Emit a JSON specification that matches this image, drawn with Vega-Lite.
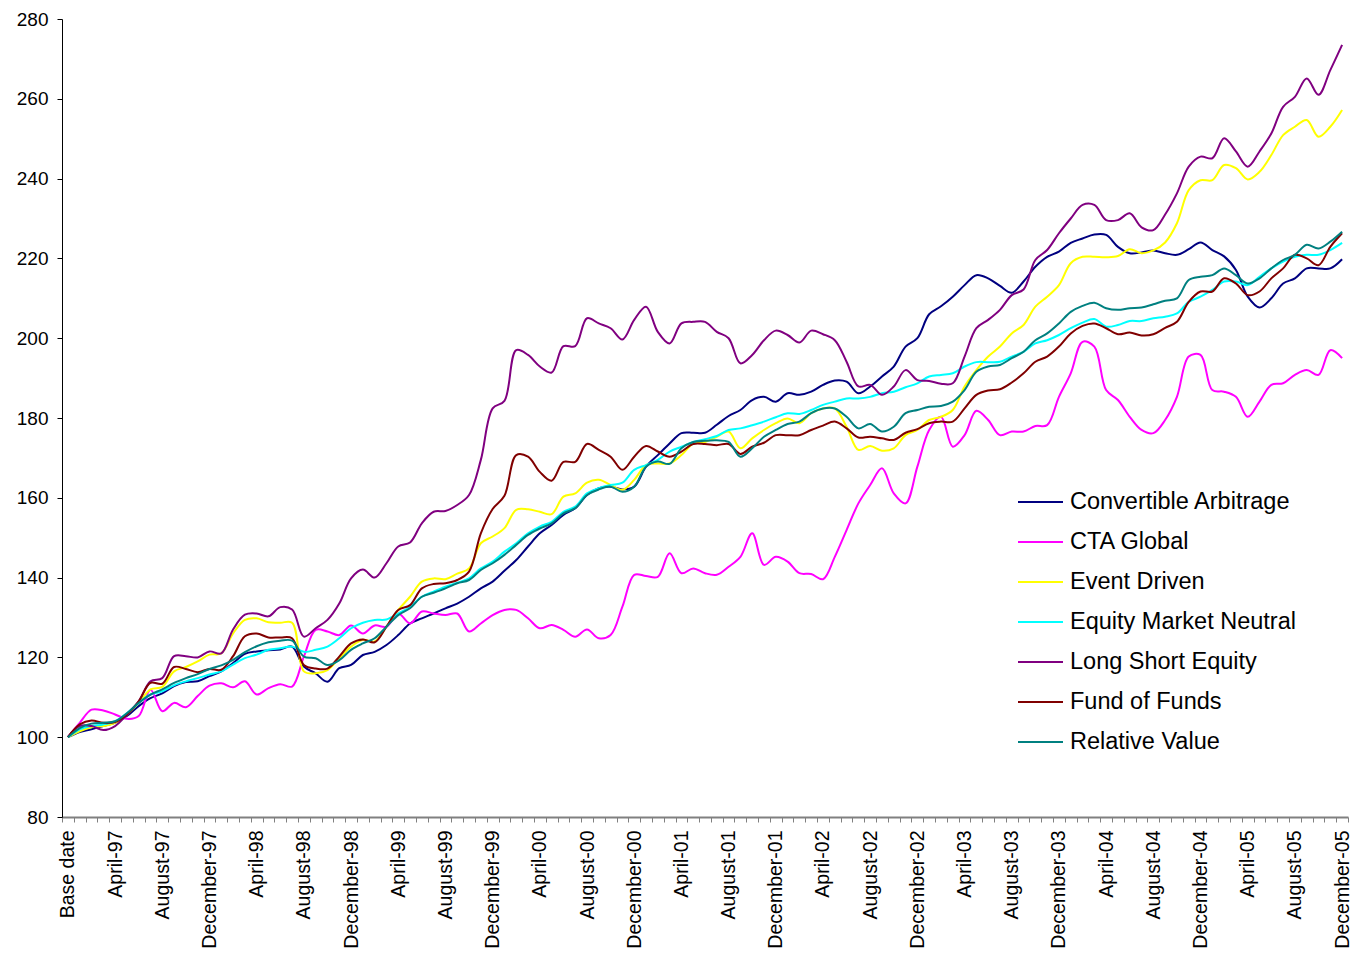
{
"$schema": "https://vega.github.io/schema/vega-lite/v6.json",
"width": 1286, "height": 798,
"autosize": {"type": "none"},
"padding": {"left": 62, "top": 19, "right": 2, "bottom": 137},
"background": "white",
"config": {"view": {"stroke": null}, "font": "Liberation Sans"},
"data": {"values": [
{"m":"Base date","Convertible Arbitrage":100,"CTA Global":100,"Event Driven":100,"Equity Market Neutral":100,"Long Short Equity":100,"Fund of Funds":100,"Relative Value":100},
{"m":"January-97","Convertible Arbitrage":101.3,"CTA Global":103.6,"Event Driven":101.5,"Equity Market Neutral":102,"Long Short Equity":102.8,"Fund of Funds":103.2,"Relative Value":102.3},
{"m":"February-97","Convertible Arbitrage":102,"CTA Global":106.9,"Event Driven":102.5,"Equity Market Neutral":102.8,"Long Short Equity":102.8,"Fund of Funds":104.2,"Relative Value":103.4},
{"m":"March-97","Convertible Arbitrage":102.8,"CTA Global":106.7,"Event Driven":102.8,"Equity Market Neutral":103.2,"Long Short Equity":101.8,"Fund of Funds":103.6,"Relative Value":103.6},
{"m":"April-97","Convertible Arbitrage":103.6,"CTA Global":105.7,"Event Driven":103.6,"Equity Market Neutral":104,"Long Short Equity":102.8,"Fund of Funds":103.8,"Relative Value":104},
{"m":"May-97","Convertible Arbitrage":105.3,"CTA Global":104.6,"Event Driven":105.7,"Equity Market Neutral":106,"Long Short Equity":105.7,"Fund of Funds":105.7,"Relative Value":106},
{"m":"June-97","Convertible Arbitrage":107.8,"CTA Global":105.3,"Event Driven":108.6,"Equity Market Neutral":108.6,"Long Short Equity":109,"Fund of Funds":109,"Relative Value":108.6},
{"m":"July-97","Convertible Arbitrage":109.8,"CTA Global":111.9,"Event Driven":112,"Equity Market Neutral":110.7,"Long Short Equity":114,"Fund of Funds":113.6,"Relative Value":110.7},
{"m":"August-97","Convertible Arbitrage":111,"CTA Global":106.5,"Event Driven":112.6,"Equity Market Neutral":111.5,"Long Short Equity":114.8,"Fund of Funds":113.4,"Relative Value":112},
{"m":"September-97","Convertible Arbitrage":112.8,"CTA Global":108.6,"Event Driven":116.5,"Equity Market Neutral":113,"Long Short Equity":120.3,"Fund of Funds":117.6,"Relative Value":113.6},
{"m":"October-97","Convertible Arbitrage":113.8,"CTA Global":107.5,"Event Driven":117.6,"Equity Market Neutral":114,"Long Short Equity":120.3,"Fund of Funds":117.1,"Relative Value":114.8},
{"m":"November-97","Convertible Arbitrage":114,"CTA Global":110.3,"Event Driven":119,"Equity Market Neutral":114.8,"Long Short Equity":120,"Fund of Funds":116.3,"Relative Value":115.8},
{"m":"December-97","Convertible Arbitrage":115.3,"CTA Global":112.9,"Event Driven":120.7,"Equity Market Neutral":115.7,"Long Short Equity":121.5,"Fund of Funds":117.1,"Relative Value":117.1},
{"m":"January-98","Convertible Arbitrage":116.5,"CTA Global":113.5,"Event Driven":121,"Equity Market Neutral":116.5,"Long Short Equity":121,"Fund of Funds":116.9,"Relative Value":118},
{"m":"February-98","Convertible Arbitrage":118.6,"CTA Global":112.5,"Event Driven":126,"Equity Market Neutral":118.2,"Long Short Equity":127,"Fund of Funds":120.3,"Relative Value":119.4},
{"m":"March-98","Convertible Arbitrage":120.9,"CTA Global":114,"Event Driven":129.4,"Equity Market Neutral":119.8,"Long Short Equity":130.7,"Fund of Funds":125.3,"Relative Value":121.3},
{"m":"April-98","Convertible Arbitrage":121.5,"CTA Global":110.7,"Event Driven":129.8,"Equity Market Neutral":120.7,"Long Short Equity":131,"Fund of Funds":126,"Relative Value":122.8},
{"m":"May-98","Convertible Arbitrage":121.8,"CTA Global":112.3,"Event Driven":128.8,"Equity Market Neutral":121.9,"Long Short Equity":130.3,"Fund of Funds":125,"Relative Value":123.8},
{"m":"June-98","Convertible Arbitrage":122,"CTA Global":113.3,"Event Driven":128.7,"Equity Market Neutral":122.3,"Long Short Equity":132.6,"Fund of Funds":125,"Relative Value":124.2},
{"m":"July-98","Convertible Arbitrage":122.7,"CTA Global":112.7,"Event Driven":128.7,"Equity Market Neutral":122.7,"Long Short Equity":132,"Fund of Funds":124.8,"Relative Value":124.2},
{"m":"August-98","Convertible Arbitrage":117.7,"CTA Global":120.2,"Event Driven":116.5,"Equity Market Neutral":121.4,"Long Short Equity":125.2,"Fund of Funds":118.1,"Relative Value":120.2},
{"m":"September-98","Convertible Arbitrage":116,"CTA Global":126.9,"Event Driven":116,"Equity Market Neutral":121.9,"Long Short Equity":127.3,"Fund of Funds":117.2,"Relative Value":119.8},
{"m":"October-98","Convertible Arbitrage":113.9,"CTA Global":126.5,"Event Driven":116.8,"Equity Market Neutral":122.7,"Long Short Equity":129.4,"Fund of Funds":117.2,"Relative Value":118.1},
{"m":"November-98","Convertible Arbitrage":117.3,"CTA Global":125.6,"Event Driven":119.8,"Equity Market Neutral":124.8,"Long Short Equity":133.5,"Fund of Funds":120.2,"Relative Value":119.3},
{"m":"December-98","Convertible Arbitrage":118.1,"CTA Global":128,"Event Driven":122.7,"Equity Market Neutral":127.3,"Long Short Equity":139.8,"Fund of Funds":123.5,"Relative Value":121.9},
{"m":"January-99","Convertible Arbitrage":120.6,"CTA Global":126,"Event Driven":124.4,"Equity Market Neutral":128.7,"Long Short Equity":142,"Fund of Funds":124.5,"Relative Value":123.5},
{"m":"February-99","Convertible Arbitrage":121.4,"CTA Global":128,"Event Driven":124,"Equity Market Neutral":129.4,"Long Short Equity":140,"Fund of Funds":123.8,"Relative Value":124.8},
{"m":"March-99","Convertible Arbitrage":123.1,"CTA Global":127.7,"Event Driven":127.7,"Equity Market Neutral":129.5,"Long Short Equity":143.6,"Fund of Funds":127.7,"Relative Value":127.7},
{"m":"April-99","Convertible Arbitrage":125.6,"CTA Global":131,"Event Driven":131.9,"Equity Market Neutral":131,"Long Short Equity":147.8,"Fund of Funds":131.9,"Relative Value":130.6},
{"m":"May-99","Convertible Arbitrage":128.5,"CTA Global":128.5,"Event Driven":135.2,"Equity Market Neutral":132.7,"Long Short Equity":148.8,"Fund of Funds":133.1,"Relative Value":132.3},
{"m":"June-99","Convertible Arbitrage":129.8,"CTA Global":131.5,"Event Driven":139,"Equity Market Neutral":135.2,"Long Short Equity":153.6,"Fund of Funds":137.3,"Relative Value":135.2},
{"m":"July-99","Convertible Arbitrage":131,"CTA Global":131,"Event Driven":139.8,"Equity Market Neutral":136.5,"Long Short Equity":156.5,"Fund of Funds":138.4,"Relative Value":136.2},
{"m":"August-99","Convertible Arbitrage":132.3,"CTA Global":130.6,"Event Driven":139.6,"Equity Market Neutral":137.7,"Long Short Equity":156.7,"Fund of Funds":138.6,"Relative Value":137.3},
{"m":"September-99","Convertible Arbitrage":133.5,"CTA Global":131,"Event Driven":141,"Equity Market Neutral":138.7,"Long Short Equity":158.2,"Fund of Funds":139.4,"Relative Value":138.6},
{"m":"October-99","Convertible Arbitrage":135.2,"CTA Global":126.5,"Event Driven":142.3,"Equity Market Neutral":139.8,"Long Short Equity":160.7,"Fund of Funds":141.5,"Relative Value":139.4},
{"m":"November-99","Convertible Arbitrage":137.3,"CTA Global":128.5,"Event Driven":148.6,"Equity Market Neutral":142.3,"Long Short Equity":169.5,"Fund of Funds":151.1,"Relative Value":141.9},
{"m":"December-99","Convertible Arbitrage":139,"CTA Global":130.6,"Event Driven":150.3,"Equity Market Neutral":144,"Long Short Equity":182.4,"Fund of Funds":157.2,"Relative Value":143.6},
{"m":"January-00","Convertible Arbitrage":141.7,"CTA Global":131.9,"Event Driven":152.4,"Equity Market Neutral":146.5,"Long Short Equity":184.3,"Fund of Funds":160.5,"Relative Value":145.7},
{"m":"February-00","Convertible Arbitrage":144.4,"CTA Global":131.9,"Event Driven":157,"Equity Market Neutral":148.6,"Long Short Equity":197,"Fund of Funds":170.7,"Relative Value":148.2},
{"m":"March-00","Convertible Arbitrage":147.8,"CTA Global":129.8,"Event Driven":157.1,"Equity Market Neutral":151.1,"Long Short Equity":195.8,"Fund of Funds":170.3,"Relative Value":150.7},
{"m":"April-00","Convertible Arbitrage":151.1,"CTA Global":127.3,"Event Driven":156.5,"Equity Market Neutral":152.8,"Long Short Equity":192.9,"Fund of Funds":166.5,"Relative Value":152.3},
{"m":"May-00","Convertible Arbitrage":153.2,"CTA Global":128.1,"Event Driven":155.9,"Equity Market Neutral":154,"Long Short Equity":191.4,"Fund of Funds":164.3,"Relative Value":153.6},
{"m":"June-00","Convertible Arbitrage":155.7,"CTA Global":126.9,"Event Driven":160.3,"Equity Market Neutral":156.5,"Long Short Equity":198,"Fund of Funds":169,"Relative Value":156.1},
{"m":"July-00","Convertible Arbitrage":157.4,"CTA Global":125.2,"Event Driven":161.1,"Equity Market Neutral":157.8,"Long Short Equity":198,"Fund of Funds":169,"Relative Value":157.4},
{"m":"August-00","Convertible Arbitrage":160.7,"CTA Global":127,"Event Driven":163.8,"Equity Market Neutral":161.1,"Long Short Equity":205,"Fund of Funds":173.5,"Relative Value":160.7},
{"m":"September-00","Convertible Arbitrage":162.4,"CTA Global":124.8,"Event Driven":164.5,"Equity Market Neutral":162.4,"Long Short Equity":203.7,"Fund of Funds":172,"Relative Value":162.1},
{"m":"October-00","Convertible Arbitrage":162.8,"CTA Global":125.6,"Event Driven":163.2,"Equity Market Neutral":163.2,"Long Short Equity":202.5,"Fund of Funds":170.3,"Relative Value":162.8},
{"m":"November-00","Convertible Arbitrage":162.1,"CTA Global":132.7,"Event Driven":162,"Equity Market Neutral":163.8,"Long Short Equity":199.7,"Fund of Funds":167,"Relative Value":161.5},
{"m":"December-00","Convertible Arbitrage":162.8,"CTA Global":140.7,"Event Driven":164.5,"Equity Market Neutral":167,"Long Short Equity":204.6,"Fund of Funds":170.3,"Relative Value":162.8},
{"m":"January-01","Convertible Arbitrage":167.8,"CTA Global":140.4,"Event Driven":168.2,"Equity Market Neutral":168.2,"Long Short Equity":207.9,"Fund of Funds":173,"Relative Value":167.8},
{"m":"February-01","Convertible Arbitrage":170.7,"CTA Global":140.2,"Event Driven":168.6,"Equity Market Neutral":169.5,"Long Short Equity":201.6,"Fund of Funds":171.6,"Relative Value":169.1},
{"m":"March-01","Convertible Arbitrage":173.6,"CTA Global":146.1,"Event Driven":168.6,"Equity Market Neutral":171.6,"Long Short Equity":198.7,"Fund of Funds":170.3,"Relative Value":168.5},
{"m":"April-01","Convertible Arbitrage":176.2,"CTA Global":141.1,"Event Driven":170.7,"Equity Market Neutral":172.8,"Long Short Equity":203.7,"Fund of Funds":171.6,"Relative Value":172.4},
{"m":"May-01","Convertible Arbitrage":176.3,"CTA Global":142.3,"Event Driven":173.6,"Equity Market Neutral":174,"Long Short Equity":204.1,"Fund of Funds":173.5,"Relative Value":174},
{"m":"June-01","Convertible Arbitrage":176.3,"CTA Global":141.1,"Event Driven":174,"Equity Market Neutral":174.7,"Long Short Equity":204.1,"Fund of Funds":173.5,"Relative Value":174.3},
{"m":"July-01","Convertible Arbitrage":178.3,"CTA Global":140.7,"Event Driven":175.3,"Equity Market Neutral":175.5,"Long Short Equity":201.6,"Fund of Funds":173.2,"Relative Value":174.4},
{"m":"August-01","Convertible Arbitrage":180.5,"CTA Global":142.7,"Event Driven":176.6,"Equity Market Neutral":177,"Long Short Equity":200,"Fund of Funds":173.5,"Relative Value":174},
{"m":"September-01","Convertible Arbitrage":182,"CTA Global":145.2,"Event Driven":172.4,"Equity Market Neutral":177.4,"Long Short Equity":193.7,"Fund of Funds":171,"Relative Value":170.3},
{"m":"October-01","Convertible Arbitrage":184.5,"CTA Global":151.1,"Event Driven":174.9,"Equity Market Neutral":178.2,"Long Short Equity":195.8,"Fund of Funds":172.8,"Relative Value":172.4},
{"m":"November-01","Convertible Arbitrage":185.3,"CTA Global":143.2,"Event Driven":177,"Equity Market Neutral":179.1,"Long Short Equity":199.5,"Fund of Funds":173.8,"Relative Value":175.3},
{"m":"December-01","Convertible Arbitrage":184.1,"CTA Global":145.2,"Event Driven":178.7,"Equity Market Neutral":180.2,"Long Short Equity":201.9,"Fund of Funds":175.7,"Relative Value":177},
{"m":"January-02","Convertible Arbitrage":186.2,"CTA Global":144,"Event Driven":179.9,"Equity Market Neutral":181.2,"Long Short Equity":200.8,"Fund of Funds":175.7,"Relative Value":178.5},
{"m":"February-02","Convertible Arbitrage":185.8,"CTA Global":141.1,"Event Driven":178.7,"Equity Market Neutral":181,"Long Short Equity":198.9,"Fund of Funds":175.7,"Relative Value":179.1},
{"m":"March-02","Convertible Arbitrage":186.6,"CTA Global":140.9,"Event Driven":181.2,"Equity Market Neutral":182,"Long Short Equity":201.9,"Fund of Funds":177,"Relative Value":181.2},
{"m":"April-02","Convertible Arbitrage":188.3,"CTA Global":139.6,"Event Driven":182.4,"Equity Market Neutral":183.3,"Long Short Equity":201,"Fund of Funds":178.1,"Relative Value":182.4},
{"m":"May-02","Convertible Arbitrage":189.4,"CTA Global":145.2,"Event Driven":182.4,"Equity Market Neutral":184.1,"Long Short Equity":199.5,"Fund of Funds":179.1,"Relative Value":182.4},
{"m":"June-02","Convertible Arbitrage":189.1,"CTA Global":151.9,"Event Driven":177.8,"Equity Market Neutral":184.9,"Long Short Equity":194.1,"Fund of Funds":177.4,"Relative Value":180.3},
{"m":"July-02","Convertible Arbitrage":186.2,"CTA Global":158.6,"Event Driven":172,"Equity Market Neutral":184.9,"Long Short Equity":187.9,"Fund of Funds":175.1,"Relative Value":177.4},
{"m":"August-02","Convertible Arbitrage":187.9,"CTA Global":163.2,"Event Driven":173,"Equity Market Neutral":185.3,"Long Short Equity":188.3,"Fund of Funds":175.3,"Relative Value":178.5},
{"m":"September-02","Convertible Arbitrage":190.4,"CTA Global":167.4,"Event Driven":171.8,"Equity Market Neutral":186.2,"Long Short Equity":185.8,"Fund of Funds":174.9,"Relative Value":176.6},
{"m":"October-02","Convertible Arbitrage":192.9,"CTA Global":161.1,"Event Driven":172.4,"Equity Market Neutral":186.6,"Long Short Equity":187.9,"Fund of Funds":174.5,"Relative Value":177.8},
{"m":"November-02","Convertible Arbitrage":197.9,"CTA Global":158.6,"Event Driven":175.7,"Equity Market Neutral":187.7,"Long Short Equity":192,"Fund of Funds":176.3,"Relative Value":181.2},
{"m":"December-02","Convertible Arbitrage":200,"CTA Global":167.8,"Event Driven":177,"Equity Market Neutral":188.7,"Long Short Equity":189.5,"Fund of Funds":177.2,"Relative Value":182},
{"m":"January-03","Convertible Arbitrage":206,"CTA Global":177,"Event Driven":179.5,"Equity Market Neutral":190.4,"Long Short Equity":189.3,"Fund of Funds":178.7,"Relative Value":182.8},
{"m":"February-03","Convertible Arbitrage":208,"CTA Global":180.3,"Event Driven":180.3,"Equity Market Neutral":190.8,"Long Short Equity":188.6,"Fund of Funds":179.1,"Relative Value":183},
{"m":"March-03","Convertible Arbitrage":210.4,"CTA Global":172.8,"Event Driven":182,"Equity Market Neutral":191.2,"Long Short Equity":188.7,"Fund of Funds":179.1,"Relative Value":184.1},
{"m":"April-03","Convertible Arbitrage":213.3,"CTA Global":175.7,"Event Driven":187.9,"Equity Market Neutral":192.9,"Long Short Equity":195.4,"Fund of Funds":182.4,"Relative Value":187},
{"m":"May-03","Convertible Arbitrage":215.8,"CTA Global":181.8,"Event Driven":192,"Equity Market Neutral":194,"Long Short Equity":202.5,"Fund of Funds":185.8,"Relative Value":191.6},
{"m":"June-03","Convertible Arbitrage":215,"CTA Global":179.5,"Event Driven":195.4,"Equity Market Neutral":194,"Long Short Equity":204.6,"Fund of Funds":186.9,"Relative Value":192.9},
{"m":"July-03","Convertible Arbitrage":213.1,"CTA Global":175.7,"Event Driven":197.9,"Equity Market Neutral":194.1,"Long Short Equity":207.1,"Fund of Funds":187.2,"Relative Value":193.3},
{"m":"August-03","Convertible Arbitrage":211.4,"CTA Global":176.6,"Event Driven":201.2,"Equity Market Neutral":195.4,"Long Short Equity":210.8,"Fund of Funds":188.9,"Relative Value":195},
{"m":"September-03","Convertible Arbitrage":214.2,"CTA Global":176.6,"Event Driven":203.3,"Equity Market Neutral":196.6,"Long Short Equity":212.2,"Fund of Funds":191.2,"Relative Value":196.6},
{"m":"October-03","Convertible Arbitrage":217.9,"CTA Global":178,"Event Driven":207.9,"Equity Market Neutral":198.7,"Long Short Equity":219.6,"Fund of Funds":194.1,"Relative Value":199.5},
{"m":"November-03","Convertible Arbitrage":220.4,"CTA Global":178.2,"Event Driven":210.4,"Equity Market Neutral":199.5,"Long Short Equity":222.1,"Fund of Funds":195.4,"Relative Value":201.2},
{"m":"December-03","Convertible Arbitrage":221.7,"CTA Global":185.3,"Event Driven":213.3,"Equity Market Neutral":200.8,"Long Short Equity":226.3,"Fund of Funds":197.9,"Relative Value":203.7},
{"m":"January-04","Convertible Arbitrage":223.9,"CTA Global":191.2,"Event Driven":218.8,"Equity Market Neutral":202.5,"Long Short Equity":230,"Fund of Funds":201.2,"Relative Value":206.6},
{"m":"February-04","Convertible Arbitrage":225,"CTA Global":199.1,"Event Driven":220.4,"Equity Market Neutral":203.9,"Long Short Equity":233.4,"Fund of Funds":203.1,"Relative Value":208.1},
{"m":"March-04","Convertible Arbitrage":226,"CTA Global":197.9,"Event Driven":220.4,"Equity Market Neutral":204.8,"Long Short Equity":233.4,"Fund of Funds":203.7,"Relative Value":208.9},
{"m":"April-04","Convertible Arbitrage":225.9,"CTA Global":187,"Event Driven":220.3,"Equity Market Neutral":202.9,"Long Short Equity":229.6,"Fund of Funds":202.5,"Relative Value":207.5},
{"m":"May-04","Convertible Arbitrage":222.9,"CTA Global":184.5,"Event Driven":220.6,"Equity Market Neutral":203.3,"Long Short Equity":229.6,"Fund of Funds":201,"Relative Value":207.1},
{"m":"June-04","Convertible Arbitrage":221.3,"CTA Global":180.3,"Event Driven":222.3,"Equity Market Neutral":204.3,"Long Short Equity":231.3,"Fund of Funds":201.4,"Relative Value":207.5},
{"m":"July-04","Convertible Arbitrage":221.5,"CTA Global":177,"Event Driven":221.3,"Equity Market Neutral":204.3,"Long Short Equity":227.8,"Fund of Funds":200.7,"Relative Value":207.7},
{"m":"August-04","Convertible Arbitrage":222,"CTA Global":176.2,"Event Driven":222,"Equity Market Neutral":205,"Long Short Equity":227.1,"Fund of Funds":201,"Relative Value":208.5},
{"m":"September-04","Convertible Arbitrage":221.3,"CTA Global":179.5,"Event Driven":224,"Equity Market Neutral":205.4,"Long Short Equity":231,"Fund of Funds":202.6,"Relative Value":209.4},
{"m":"October-04","Convertible Arbitrage":220.9,"CTA Global":185.3,"Event Driven":228.8,"Equity Market Neutral":206.2,"Long Short Equity":236.3,"Fund of Funds":204.1,"Relative Value":210},
{"m":"November-04","Convertible Arbitrage":222.3,"CTA Global":195.4,"Event Driven":237.1,"Equity Market Neutral":209.1,"Long Short Equity":243,"Fund of Funds":209.1,"Relative Value":214.6},
{"m":"December-04","Convertible Arbitrage":224,"CTA Global":195.8,"Event Driven":239.6,"Equity Market Neutral":210.4,"Long Short Equity":245.5,"Fund of Funds":211.7,"Relative Value":215.4},
{"m":"January-05","Convertible Arbitrage":222.1,"CTA Global":187,"Event Driven":239.6,"Equity Market Neutral":212.1,"Long Short Equity":245.1,"Fund of Funds":211.7,"Relative Value":215.8},
{"m":"February-05","Convertible Arbitrage":220.5,"CTA Global":186.6,"Event Driven":243.4,"Equity Market Neutral":214.2,"Long Short Equity":250.1,"Fund of Funds":215,"Relative Value":217.5},
{"m":"March-05","Convertible Arbitrage":217.1,"CTA Global":185.3,"Event Driven":242.6,"Equity Market Neutral":214.2,"Long Short Equity":246.8,"Fund of Funds":213.7,"Relative Value":215.8},
{"m":"April-05","Convertible Arbitrage":210.4,"CTA Global":180.3,"Event Driven":239.8,"Equity Market Neutral":213.3,"Long Short Equity":243,"Fund of Funds":210.8,"Relative Value":213.7},
{"m":"May-05","Convertible Arbitrage":207.7,"CTA Global":184.1,"Event Driven":241.7,"Equity Market Neutral":215.4,"Long Short Equity":246.8,"Fund of Funds":211.7,"Relative Value":215},
{"m":"June-05","Convertible Arbitrage":210,"CTA Global":188.3,"Event Driven":245.9,"Equity Market Neutral":217.5,"Long Short Equity":251.3,"Fund of Funds":215,"Relative Value":217.5},
{"m":"July-05","Convertible Arbitrage":213.7,"CTA Global":188.7,"Event Driven":250.9,"Equity Market Neutral":219.2,"Long Short Equity":258,"Fund of Funds":217.5,"Relative Value":219.6},
{"m":"August-05","Convertible Arbitrage":215,"CTA Global":190.8,"Event Driven":253,"Equity Market Neutral":220.4,"Long Short Equity":260.5,"Fund of Funds":220.9,"Relative Value":220.9},
{"m":"September-05","Convertible Arbitrage":217.5,"CTA Global":192,"Event Driven":254.7,"Equity Market Neutral":220.9,"Long Short Equity":265.1,"Fund of Funds":220,"Relative Value":223.4},
{"m":"October-05","Convertible Arbitrage":217.5,"CTA Global":190.8,"Event Driven":250.5,"Equity Market Neutral":220.9,"Long Short Equity":261,"Fund of Funds":218.3,"Relative Value":222.5},
{"m":"November-05","Convertible Arbitrage":217.5,"CTA Global":197,"Event Driven":253,"Equity Market Neutral":222.1,"Long Short Equity":267.2,"Fund of Funds":222.9,"Relative Value":224.2},
{"m":"December-05","Convertible Arbitrage":219.8,"CTA Global":195,"Event Driven":257.2,"Equity Market Neutral":223.9,"Long Short Equity":273.5,"Fund of Funds":226.3,"Relative Value":226.7}
]},
"transform": [{"fold": ["Convertible Arbitrage","CTA Global","Event Driven","Equity Market Neutral","Long Short Equity","Fund of Funds","Relative Value"], "as": ["series","value"]}],
"mark": {"type": "line", "strokeWidth": 2, "interpolate": "catmull-rom"},
"encoding": {
  "x": {"field": "m", "type": "ordinal", "sort": null,
        "scale": {"type": "band", "paddingInner": 0, "paddingOuter": 0},
        "axis": {"title": null, "tickBand": "extent", "labelAngle": 270, "labelFontSize": 19.5, "labelPadding": 8, "tickSize": 5, "tickColor": "#808080", "domainColor": "#808080", "domainWidth": 2, "labelColor": "black", "labelOverlap": false, "labelFont": "Liberation Sans",
                 "labelExpr": "isString(datum.value) && (indexof(datum.value,'April')==0 || indexof(datum.value,'August')==0 || indexof(datum.value,'December')==0 || datum.value=='Base date') ? datum.value : ''"}},
  "y": {"field": "value", "type": "quantitative",
        "scale": {"domain": [80, 280], "nice": false, "zero": false},
        "axis": {"title": null, "values": [80,100,120,140,160,180,200,220,240,260,280], "grid": false, "domainColor": "black", "tickColor": "black", "tickSize": 5, "labelFontSize": 19, "labelPadding": 9, "labelColor": "black", "labelFont": "Liberation Sans"}},
  "color": {"field": "series", "type": "nominal",
        "scale": {"domain": ["Convertible Arbitrage","CTA Global","Event Driven","Equity Market Neutral","Long Short Equity","Fund of Funds","Relative Value"],
                  "range": ["#000080","#FF00FF","#FFFF00","#00FFFF","#800080","#800000","#008080"]},
        "legend": {"title": null, "orient": "none", "legendX": 955, "legendY": 463, "symbolType": "stroke", "symbolSize": 2025, "symbolStrokeWidth": 2, "labelFontSize": 23.5, "labelOffset": 6, "clipHeight": 40, "rowPadding": 0, "padding": 0, "labelColor": "black", "labelLimit": 400, "labelFont": "Liberation Sans"}}
}
}
